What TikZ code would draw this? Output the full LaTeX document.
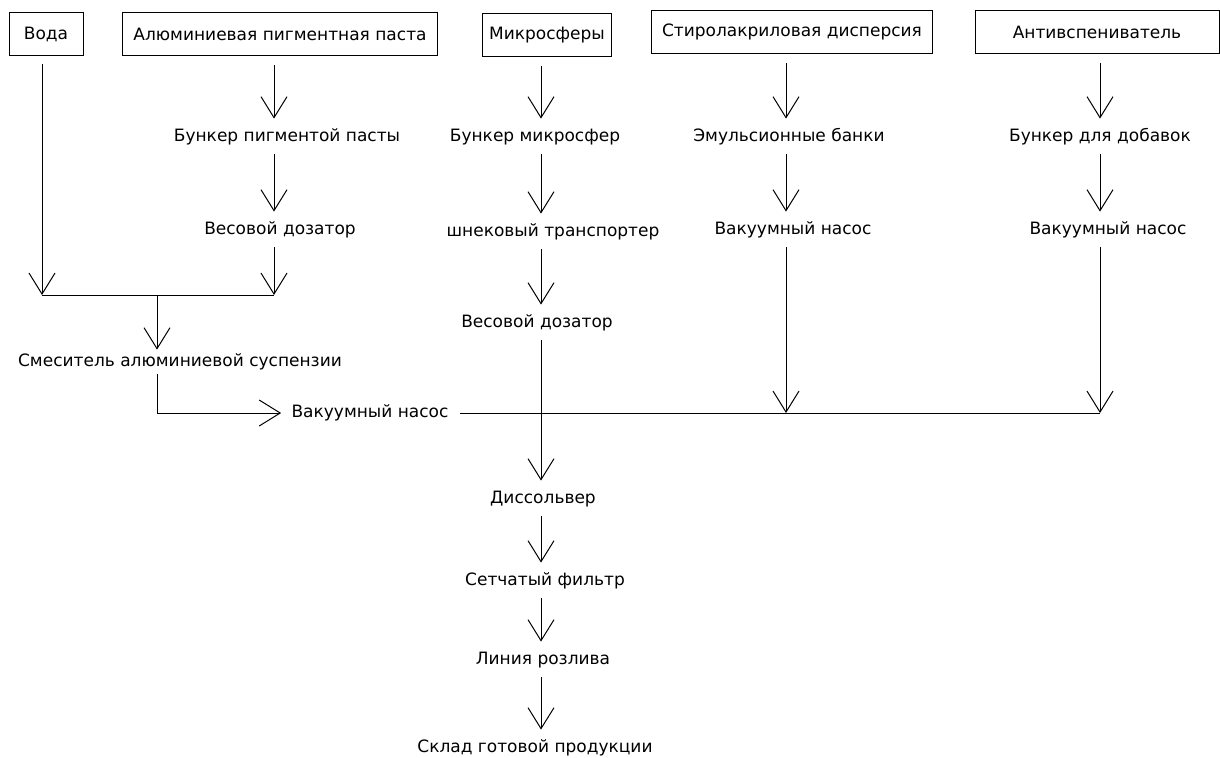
\documentclass[tikz,border=0pt]{standalone}
\usepackage{fontspec}
\setmainfont{DejaVu Sans}
\usetikzlibrary{arrows.meta}
\usetikzlibrary{calc}
\tikzset{
	block/.style={draw, line width=0.5pt, minimum height=21.5pt, inner sep=0pt},
	stage/.style={inner sep=0pt, text height=6.3pt, text depth=1.7pt},
	flow/.style={line width=0.5pt, -{Straight Barb[length=10.5pt,width=13pt]}, shorten <=4.5pt, shorten >=5pt},
	pipe/.style={line width=0.5pt}
}

\begin{document}
\begin{tikzpicture}[x=0.5pt, y=-0.5pt, font=\fontsize{8.5}{10}\selectfont]
	\useasboundingbox (0,0) rectangle (1220,757);
	
	% columns
	\coordinate (colA) at (42,0);
	\coordinate (colB) at (274,0);
	\coordinate (colC) at (541,0);
	\coordinate (colD) at (786,0);
	\coordinate (colE) at (1100,0);
	
	% raw materials
	\node[block, minimum width=37pt] (voda) at (46,34) {Вода};
	\node[block, minimum width=157.5pt] (paste) at (280,34) {Алюминиевая пигментная паста};
	\node[block, minimum width=64.5pt] (micro) at (547,35) {Микросферы};
	\node[block, minimum width=140.5pt] (disp) at (792,32) {Стиролакриловая дисперсия};
	\node[block, minimum width=122pt] (defoam) at (1097,32) {Антивспениватель};
	
	% pigment paste line
	\node[stage] (bunkA) at (287,137) {Бункер пигментой пасты};
	\node[stage] (dozA) at (280,230) {Весовой дозатор};
	\node[stage] (mixer) at (180,362) {Смеситель алюминиевой суспензии};
	\node[stage] (pump) at (370,413) {Вакуумный насос};
	
	% microspheres line
	\node[stage] (bunkC) at (535,137) {Бункер микросфер};
	\node[stage] (shnek) at (553,232) {шнековый транспортер};
	\node[stage] (dozC) at (537,323) {Весовой дозатор};
	\node[stage] (diss) at (543,499) {Диссольвер};
	\node[stage] (filt) at (545,581) {Сетчатый фильтр};
	\node[stage] (bottling) at (543,660) {Линия розлива};
	\node[stage] (store) at (535,748) {Склад готовой продукции};
	
	% dispersion line
	\node[stage] (emul) at (789,137) {Эмульсионные банки};
	\node[stage] (vacD) at (793,230) {Вакуумный насос};
	
	% defoamer line
	\node[stage] (bunkE) at (1100,137) {Бункер для добавок};
	\node[stage] (vacE) at (1108,230) {Вакуумный насос};
	
	% junctions
	\coordinate (mixA) at (42,295);
	\coordinate (mixB) at (274,295);
	\coordinate (mixM) at (157,295);
	\coordinate (jD) at (786,413);
	\coordinate (jE) at (1100,413);
	
	% water and paste to mixer
	\draw[flow, shorten <=4pt, shorten >=0pt] (voda.south -| colA) -- (mixA);
	\draw[flow] (paste.south -| colB) -- (bunkA.north -| colB);
	\draw[flow] (bunkA.south -| colB) -- (dozA.north -| colB);
	\draw[flow, shorten >=0pt] (dozA.south -| colB) -- (mixB);
	\draw[pipe] (mixA) -- (mixB);
	\draw[flow, shorten <=0pt, shorten >=2pt] (mixM) -- (mixer.north -| mixM);
	\draw[flow, shorten <=2pt] (mixer.south -| mixM) |- (pump.west);
	\draw[pipe, shorten <=5.5pt] (pump.east) -- (jE);
	
	% microspheres down to store
	\draw[flow] (micro.south -| colC) -- (bunkC.north -| colC);
	\draw[flow] (bunkC.south -| colC) -- (shnek.north -| colC);
	\draw[flow] (shnek.south -| colC) -- (dozC.north -| colC);
	\draw[flow] (dozC.south -| colC) -- (diss.north -| colC);
	\draw[flow] (diss.south -| colC) -- (filt.north -| colC);
	\draw[flow] (filt.south -| colC) -- (bottling.north -| colC);
	\draw[flow] (bottling.south -| colC) -- (store.north -| colC);
	
	% dispersion
	\draw[flow] (disp.south -| colD) -- (emul.north -| colD);
	\draw[flow] (emul.south -| colD) -- (vacD.north -| colD);
	\draw[flow, shorten >=0pt] (vacD.south -| colD) -- (jD);
	
	% defoamer
	\draw[flow] (defoam.south -| colE) -- (bunkE.north -| colE);
	\draw[flow] (bunkE.south -| colE) -- (vacE.north -| colE);
	\draw[flow, shorten >=0pt] (vacE.south -| colE) -- (jE);
	
\end{tikzpicture}
\end{document}
